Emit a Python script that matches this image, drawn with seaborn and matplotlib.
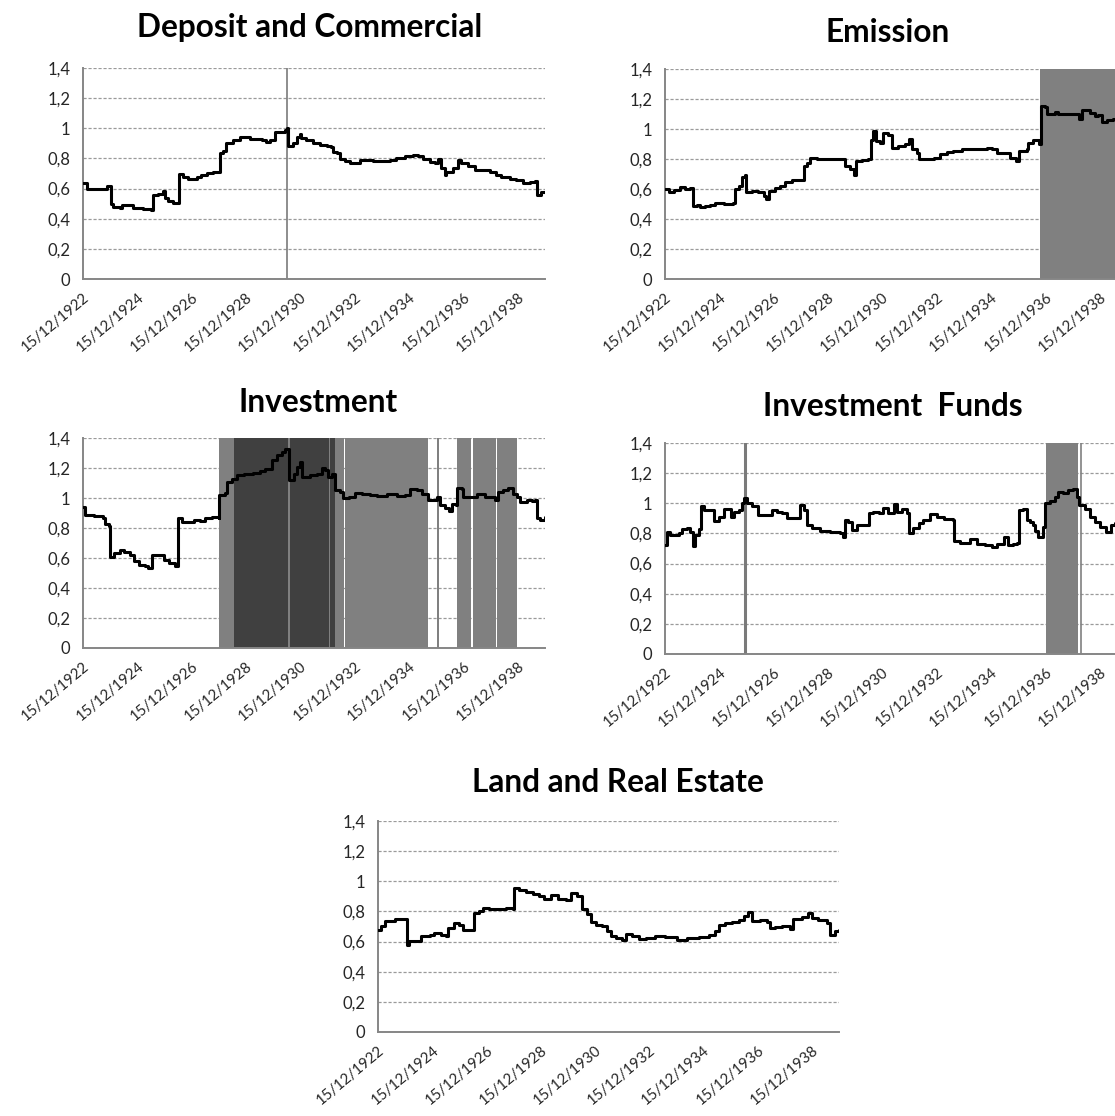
import numpy as np
import pandas as pd
import matplotlib
matplotlib.use("Agg")
import matplotlib.pyplot as plt
import seaborn as sns

# ---------------- data ----------------
BASE_DATE = "1922-12-15"
tick_years = [1922, 1924, 1926, 1928, 1930, 1932, 1934, 1936, 1938]
tick_labels = [f"15/12/{y}" for y in tick_years]
y_ticks = [0, 0.2, 0.4, 0.6, 0.8, 1.0, 1.2, 1.4]
y_tick_labels = ["0", "0,2", "0,4", "0,6", "0,8", "1", "1,2", "1,4"]

titles = ["Deposit and Commercial", "Emission", "Investment",
          "Investment  Funds", "Land and Real Estate"]

# t = years elapsed since 15/12/1922
dep_t = [0.00, 0.13, 0.87, 1.02, 1.12, 1.36, 1.42, 1.85, 2.22, 2.52, 2.56, 2.77,
         2.93, 3.01, 3.14, 3.32, 3.54, 3.69, 3.87, 4.18, 4.36, 4.55, 4.79, 5.04,
         5.16, 5.28, 5.53, 5.77, 5.96, 6.14, 6.38, 6.57, 6.75, 6.88, 7.06, 7.24,
         7.43, 7.49, 7.55, 7.73, 7.86, 7.98, 8.04, 8.22, 8.47, 8.71, 8.96, 9.14,
         9.20, 9.33, 9.45, 9.63, 9.82, 10.18, 10.67, 11.10, 11.29, 11.53, 11.84,
         12.14, 12.33, 12.51, 12.76, 12.94, 13.06, 13.19, 13.31, 13.37, 13.61,
         13.80, 13.92, 14.17, 14.41, 14.72, 14.96, 15.21, 15.39, 15.70, 15.94,
         16.19, 16.43, 16.62, 16.70, 16.86, 17.00]
dep_v = [0.64, 0.60, 0.615, 0.50, 0.48, 0.47, 0.49, 0.47, 0.465, 0.46, 0.555, 0.565,
         0.585, 0.535, 0.52, 0.505, 0.70, 0.68, 0.665, 0.68, 0.69, 0.705, 0.71, 0.835,
         0.85, 0.90, 0.92, 0.94, 0.945, 0.93, 0.93, 0.92, 0.91, 0.925, 0.975, 0.975,
         0.99, 1.00, 0.88, 0.90, 0.94, 0.965, 0.935, 0.92, 0.905, 0.89, 0.88, 0.875,
         0.845, 0.835, 0.795, 0.78, 0.77, 0.79, 0.78, 0.78, 0.79, 0.805, 0.815,
         0.825, 0.815, 0.795, 0.775, 0.77, 0.795, 0.735, 0.69, 0.71, 0.735,
         0.79, 0.77, 0.75, 0.725, 0.72, 0.71, 0.69, 0.675, 0.665, 0.655,
         0.635, 0.645, 0.65, 0.555, 0.575, 0.58]

emi_t = [0.00, 0.13, 0.32, 0.54, 0.75, 0.93, 1.03, 1.18, 1.30, 1.48, 1.67, 1.85,
         2.16, 2.52, 2.59, 2.71, 2.83, 2.93, 2.99, 3.20, 3.44, 3.63, 3.73, 3.81,
         4.06, 4.24, 4.42, 4.67, 5.04, 5.10, 5.22, 5.32, 5.59, 5.96, 6.20, 6.54,
         6.63, 6.81, 6.94, 7.03, 7.24, 7.48, 7.57, 7.67, 7.77, 7.92, 8.04, 8.22,
         8.35, 8.59, 8.84, 8.96, 9.08, 9.26, 9.36, 9.63, 9.88, 10.12, 10.37, 10.61,
         10.92, 11.35, 11.84, 12.02, 12.21, 12.45, 12.70, 12.92, 13.04, 13.19,
         13.31, 13.37, 13.53, 13.77, 13.82, 13.98, 14.04, 14.35, 14.47, 15.21,
         15.25, 15.33, 15.64, 15.82, 15.94, 16.07, 16.25, 16.50, 17.00]
emi_v = [0.60, 0.578, 0.593, 0.611, 0.60, 0.604, 0.49, 0.494, 0.479, 0.486, 0.494, 0.505,
         0.501, 0.505, 0.60, 0.622, 0.677, 0.692, 0.578, 0.589, 0.578, 0.556, 0.534, 0.589,
         0.604, 0.622, 0.648, 0.661, 0.661, 0.754, 0.776, 0.809, 0.798, 0.798, 0.802, 0.802,
         0.754, 0.736, 0.692, 0.787, 0.793, 0.798, 0.93, 0.985, 0.919, 0.908, 0.974, 0.963,
         0.875, 0.886, 0.897, 0.934, 0.864, 0.842, 0.798, 0.802, 0.809, 0.831, 0.846, 0.853,
         0.868, 0.864, 0.875, 0.864, 0.842, 0.837, 0.809, 0.787, 0.853, 0.853,
         0.864, 0.908, 0.93, 0.897, 1.154, 1.15, 1.10, 1.116, 1.10, 1.10,
         1.07, 1.127, 1.105, 1.088, 1.095, 1.044, 1.057, 1.07, 1.07]

inv_t = [0.00, 0.09, 0.39, 0.64, 0.74, 0.82, 0.94, 1.00, 1.13, 1.35, 1.50, 1.74,
         1.86, 2.05, 2.29, 2.41, 2.54, 2.84, 2.97, 3.15, 3.39, 3.48, 3.64, 3.88,
         4.07, 4.31, 4.50, 4.74, 4.99, 5.02, 5.23, 5.29, 5.48, 5.66, 5.91, 6.27,
         6.52, 6.70, 6.95, 7.13, 7.32, 7.44, 7.57, 7.75, 7.87, 7.99, 8.05, 8.36,
         8.60, 8.79, 8.91, 9.03, 9.15, 9.28, 9.46, 9.58, 9.77, 10.01, 10.26, 10.56,
         10.81, 11.18, 11.54, 11.85, 12.03, 12.28, 12.46, 12.71, 13.01, 13.14, 13.32,
         13.48, 13.56, 13.73, 13.77, 13.93, 13.99, 14.30, 14.49, 14.79, 15.16, 15.28,
         15.47, 15.65, 15.81, 15.96, 16.08, 16.32, 16.51, 16.64, 16.69, 16.81, 17.00]
inv_v = [0.942, 0.887, 0.88, 0.88, 0.864, 0.827, 0.814, 0.61, 0.633, 0.655, 0.637, 0.622,
         0.577, 0.555, 0.544, 0.533, 0.622, 0.622, 0.589, 0.567, 0.544, 0.864, 0.842, 0.842,
         0.853, 0.849, 0.864, 0.875, 0.864, 1.019, 1.034, 1.107, 1.129, 1.151, 1.162, 1.167,
         1.18, 1.196, 1.251, 1.284, 1.306, 1.328, 1.118, 1.162, 1.207, 1.24, 1.14, 1.151,
         1.162, 1.202, 1.189, 1.14, 1.162, 1.052, 1.041, 1.0, 1.01, 1.034, 1.03, 1.019,
         1.012, 1.026, 1.012, 1.019, 1.057, 1.052, 1.03, 0.99, 1.004, 0.953, 0.931,
         0.915, 0.959, 0.953, 1.07, 1.063, 1.008, 1.004, 1.026, 1.008, 0.99, 1.041,
         1.052, 1.068, 1.026, 1.008, 0.975, 0.986, 0.981, 0.986, 0.864, 0.853, 0.871]

fund_t = [0.00, 0.07, 0.20, 0.50, 0.63, 0.81, 0.93, 1.02, 1.12, 1.24, 1.32, 1.42,
          1.67, 1.79, 1.97, 2.16, 2.34, 2.43, 2.55, 2.71, 2.83, 2.92, 3.01, 3.20,
          3.44, 3.69, 3.93, 4.12, 4.30, 4.49, 4.91, 4.98, 5.10, 5.22, 5.40, 5.71,
          6.08, 6.45, 6.54, 6.61, 6.75, 6.88, 7.06, 7.30, 7.49, 7.67, 7.86, 8.04,
          8.22, 8.41, 8.53, 8.71, 8.90, 8.99, 9.14, 9.33, 9.51, 9.75, 10.00, 10.25,
          10.59, 10.64, 10.86, 11.23, 11.47, 11.78, 12.02, 12.21, 12.39, 12.48, 12.63,
          12.82, 12.97, 13.04, 13.19, 13.31, 13.43, 13.53, 13.62, 13.74, 13.90, 13.98,
          14.17, 14.35, 14.47, 14.66, 14.84, 15.02, 15.15, 15.25, 15.45, 15.64, 15.82,
          16.00, 16.23, 16.40, 16.56, 17.00]
fund_v = [0.722, 0.811, 0.789, 0.80, 0.827, 0.833, 0.811, 0.716, 0.789, 0.827, 0.982, 0.956,
          0.956, 0.884, 0.911, 0.96, 0.96, 0.911, 0.944, 0.956, 1.0, 1.033, 1.0, 0.982,
          0.922, 0.922, 0.956, 0.944, 0.933, 0.90, 0.90, 0.989, 0.956, 0.856, 0.833, 0.818,
          0.811, 0.804, 0.778, 0.889, 0.878, 0.822, 0.856, 0.856, 0.933, 0.944, 0.933, 0.967,
          0.933, 0.996, 0.944, 0.96, 0.933, 0.80, 0.833, 0.867, 0.889, 0.927, 0.911, 0.893,
          0.889, 0.751, 0.738, 0.762, 0.729, 0.722, 0.707, 0.729, 0.733, 0.773, 0.722,
          0.733, 0.738, 0.956, 0.96, 0.889, 0.878, 0.856, 0.818, 0.778, 0.84, 1.004,
          1.018, 1.044, 1.078, 1.067, 1.089, 1.093, 1.044, 0.989, 0.96, 0.911, 0.878,
          0.844, 0.811, 0.856, 0.871, 0.88]

land_t = [0.00, 0.12, 0.25, 0.49, 0.61, 1.02, 1.07, 1.16, 1.41, 1.59, 1.90, 2.08,
          2.33, 2.51, 2.57, 2.82, 3.00, 3.13, 3.43, 3.55, 3.74, 3.86, 4.11, 4.41,
          4.72, 4.99, 5.02, 5.21, 5.45, 5.70, 5.94, 6.13, 6.37, 6.62, 6.92, 7.11,
          7.35, 7.48, 7.54, 7.72, 7.84, 8.03, 8.27, 8.46, 8.58, 8.76, 8.98, 9.13,
          9.38, 9.62, 9.87, 10.23, 10.60, 11.03, 11.40, 11.83, 12.19, 12.44, 12.56,
          12.81, 13.05, 13.30, 13.48, 13.66, 13.79, 14.09, 14.34, 14.46, 14.64, 14.89,
          15.20, 15.32, 15.63, 15.87, 15.99, 16.24, 16.54, 16.67, 16.85, 17.00]
land_v = [0.679, 0.701, 0.735, 0.735, 0.751, 0.751, 0.578, 0.607, 0.607, 0.638, 0.645, 0.66,
          0.645, 0.638, 0.69, 0.724, 0.712, 0.679, 0.679, 0.791, 0.802, 0.825, 0.818, 0.818,
          0.825, 0.814, 0.955, 0.944, 0.93, 0.915, 0.903, 0.881, 0.908, 0.885, 0.876, 0.921,
          0.903, 0.903, 0.813, 0.78, 0.728, 0.712, 0.701, 0.667, 0.634, 0.622, 0.611, 0.652,
          0.634, 0.616, 0.622, 0.638, 0.629, 0.611, 0.622, 0.629, 0.645, 0.667, 0.712,
          0.724, 0.728, 0.746, 0.769, 0.796, 0.735, 0.742, 0.728, 0.69, 0.697, 0.706,
          0.683, 0.751, 0.764, 0.791, 0.757, 0.746, 0.724, 0.645, 0.667, 0.674]

# regime shading periods (start t, end t)
dep_marks = [7.50]
emi_light = [(13.80, 17.00)]
inv_dark = [(5.57, 7.56), (7.63, 9.06), (9.10, 9.29)]
inv_light = [(5.02, 5.57), (7.56, 7.63), (9.06, 9.10), (9.29, 9.61), (9.65, 12.71),
             (13.02, 13.09), (13.75, 14.29), (14.35, 15.18), (15.24, 15.98)]
fund_marks = [2.95]
fund_light = [(14.01, 15.21)]
fund_thin = [15.29]

# ---------------- helpers ----------------
base = pd.Timestamp(BASE_DATE)


def to_dates(t):
    return base + pd.to_timedelta(np.asarray(t, dtype=float) * 365.25, unit="D")


sns.set_style("white")
plt.rcParams["font.family"] = ["Lato", "DejaVu Sans"]

W, H = 1115, 1116
fig = plt.figure(figsize=(W / 100, H / 100), dpi=100)

LIGHT = "#808080"
DARK = "#404040"
AXC = "#868686"


def px_axes(left, top, right, bottom):
    return fig.add_axes([left / W, 1 - bottom / H, (right - left) / W, (bottom - top) / H])


def style(ax):
    ax.set_ylim(0, 1.4)
    ax.set_xlim(to_dates([0])[0], to_dates([17])[0])
    ax.set_yticks(y_ticks)
    ax.set_yticklabels(y_tick_labels)
    xt = [pd.Timestamp(f"{y}-12-15") for y in tick_years]
    ax.set_xticks(xt)
    ax.set_xticklabels(tick_labels, rotation=40, ha="right", va="top",
                       rotation_mode="anchor")
    ax.tick_params(axis="x", length=5, width=1.2, color=AXC, labelsize=10.8,
                   labelcolor="#262626", pad=3)
    ax.tick_params(axis="y", length=6, width=0.8, color="#b0b0b0", labelsize=12,
                   labelcolor="#262626", pad=3)
    for s in ["top", "right"]:
        ax.spines[s].set_visible(False)
    for s in ["left", "bottom"]:
        ax.spines[s].set_color(AXC)
        ax.spines[s].set_linewidth(1.4)
    ax.yaxis.grid(True, color="#9a9a9a", linestyle=(0, (2.5, 1.5)), linewidth=0.9)
    ax.xaxis.grid(False)
    ax.set_axisbelow(True)
    ax.set_xlabel("")
    ax.set_ylabel("")


def spans(ax, periods, color):
    for a, b in periods:
        d = to_dates([a, b])
        ax.axvspan(d[0], d[1], color=color, lw=0, zorder=1)


def vlines(ax, ts, color, lw):
    for t in ts:
        ax.axvline(to_dates([t])[0], color=color, lw=lw, zorder=1.5)


def series(ax, t, v):
    df = pd.DataFrame({"date": to_dates(t), "value": v})
    sns.lineplot(data=df, x="date", y="value", ax=ax, color="black", lw=2.2,
                 drawstyle="steps-post", estimator=None, zorder=3)


# panel geometry in pixels (left, top, right, bottom) of the plot area
ax1 = px_axes(83, 68, 545, 279)
ax2 = px_axes(665, 69, 1127, 279)
ax3 = px_axes(83, 438, 545, 648)
ax4 = px_axes(665, 443, 1127, 654)
ax5 = px_axes(378, 821, 839, 1032)

vlines(ax1, dep_marks, "#7a7a7a", 1.2)
series(ax1, dep_t, dep_v)

spans(ax2, emi_light, LIGHT)
series(ax2, emi_t, emi_v)

spans(ax3, inv_light, LIGHT)
spans(ax3, inv_dark, DARK)
series(ax3, inv_t, inv_v)

vlines(ax4, fund_marks, "#7a7a7a", 2.2)
spans(ax4, fund_light, LIGHT)
vlines(ax4, fund_thin, LIGHT, 1.2)
series(ax4, fund_t, fund_v)

series(ax5, land_t, land_v)

for ax in [ax1, ax2, ax3, ax4, ax5]:
    style(ax)

title_pos = [(310, 28), (888, 32), (318, 402), (893, 407), (618, 783)]
for txt, (x, y) in zip(titles, title_pos):
    fig.text(x / W, 1 - y / H, txt, ha="center", va="center", fontsize=22.8,
             fontweight="bold", color="#000000")

fig.savefig("out.png", dpi=100)
